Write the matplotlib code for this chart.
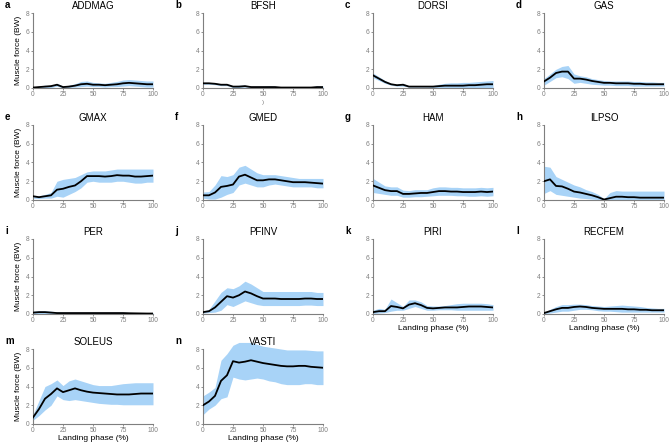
import matplotlib
matplotlib.use("Agg")
import matplotlib.pyplot as plt
import numpy as np

plt.rcParams['font.family'] = ['Liberation Sans', 'DejaVu Sans']

x = [0, 5, 10, 15, 20, 25, 30, 35, 40, 45, 50, 55, 60, 65, 70, 75, 80, 85, 90, 95, 100]

names = ["ADDMAG", "BFSH", "DORSI", "GAS", "GMAX", "GMED", "HAM", "ILPSO",
         "PER", "PFINV", "PIRI", "RECFEM", "SOLEUS", "VASTI"]
letters = list("abcdefghijklmn")

addmag_mean = [0.05,0.1,0.15,0.2,0.35,0.1,0.15,0.25,0.4,0.45,0.35,0.35,0.3,0.35,0.4,0.5,0.55,0.5,0.45,0.4,0.4]
addmag_up   = [0.1,0.2,0.3,0.25,0.5,0.2,0.3,0.45,0.7,0.75,0.6,0.55,0.5,0.6,0.7,0.85,0.9,0.85,0.8,0.75,0.75]
addmag_lo   = [0,0,0,0.05,0.2,0,0.05,0.1,0.15,0.2,0.15,0.15,0.1,0.15,0.15,0.2,0.25,0.2,0.15,0.1,0.1]

bfsh_mean = [0.5,0.5,0.45,0.35,0.35,0.15,0.15,0.2,0.1,0.1,0.1,0.1,0.1,0.05,0.05,0.05,0.05,0.05,0.05,0.1,0.1]
bfsh_up   = [0.6,0.6,0.55,0.45,0.45,0.25,0.3,0.3,0.2,0.2,0.2,0.25,0.2,0.1,0.1,0.1,0.1,0.1,0.1,0.25,0.2]
bfsh_lo   = [0.4,0.4,0.35,0.25,0.25,0.05,0.05,0.1,0.05,0.05,0.05,0.05,0.05,0,0,0,0,0,0,0.05,0.05]

dorsi_mean = [1.35,1.0,0.65,0.4,0.3,0.35,0.15,0.15,0.15,0.15,0.15,0.2,0.25,0.25,0.25,0.25,0.3,0.3,0.35,0.4,0.4]
dorsi_up   = [1.6,1.2,0.8,0.5,0.4,0.5,0.2,0.2,0.2,0.2,0.25,0.4,0.5,0.55,0.55,0.6,0.6,0.65,0.7,0.75,0.8]
dorsi_lo   = [1.1,0.8,0.5,0.3,0.2,0.2,0.1,0.1,0.1,0.1,0.05,0.05,0.05,0.05,0.05,0.05,0.05,0.05,0.05,0.05,0.05]

gas_mean = [0.7,1.1,1.6,1.75,1.75,1.0,1.0,0.9,0.75,0.65,0.55,0.55,0.5,0.5,0.5,0.45,0.45,0.4,0.4,0.4,0.4]
gas_up   = [1.0,1.5,2.0,2.3,2.4,1.5,1.3,1.2,1.0,0.9,0.8,0.75,0.75,0.75,0.75,0.7,0.7,0.65,0.65,0.6,0.6]
gas_lo   = [0.3,0.7,1.1,1.2,1.0,0.5,0.6,0.5,0.4,0.35,0.3,0.3,0.25,0.25,0.25,0.2,0.2,0.2,0.2,0.2,0.2]

gmax_mean = [0.4,0.3,0.4,0.5,1.1,1.2,1.4,1.55,2.0,2.55,2.55,2.55,2.5,2.55,2.65,2.6,2.6,2.5,2.5,2.55,2.6]
gmax_up   = [0.5,0.45,0.6,0.8,2.0,2.2,2.3,2.4,2.7,3.0,3.1,3.1,3.1,3.2,3.3,3.3,3.3,3.3,3.3,3.3,3.3]
gmax_lo   = [0.2,0.15,0.2,0.2,0.4,0.3,0.6,0.9,1.3,1.9,2.0,1.9,1.9,1.9,2.0,2.0,1.9,1.8,1.8,1.9,1.9]

gmed_mean = [0.5,0.5,0.8,1.4,1.5,1.65,2.5,2.7,2.4,2.1,2.1,2.2,2.2,2.1,2.0,1.9,1.9,1.9,1.85,1.8,1.75]
gmed_up   = [0.85,0.9,1.6,2.6,2.5,2.7,3.5,3.7,3.3,2.9,2.7,2.7,2.7,2.6,2.5,2.4,2.3,2.3,2.3,2.3,2.3]
gmed_lo   = [0.2,0.1,0.1,0.3,0.6,0.8,1.6,1.8,1.6,1.4,1.4,1.6,1.7,1.6,1.5,1.4,1.4,1.4,1.4,1.3,1.3]

ham_mean = [1.55,1.3,1.05,0.95,0.95,0.65,0.65,0.7,0.75,0.75,0.85,0.95,0.95,0.9,0.9,0.85,0.85,0.85,0.9,0.85,0.9]
ham_up   = [2.3,1.9,1.5,1.4,1.4,1.05,1.0,1.1,1.1,1.1,1.3,1.4,1.4,1.35,1.35,1.3,1.3,1.3,1.35,1.3,1.35]
ham_lo   = [0.8,0.7,0.6,0.5,0.5,0.3,0.3,0.35,0.35,0.4,0.45,0.5,0.5,0.5,0.45,0.45,0.4,0.4,0.45,0.4,0.45]

ilpso_mean = [2.0,2.2,1.5,1.45,1.2,0.9,0.8,0.65,0.5,0.3,0.05,0.2,0.35,0.35,0.3,0.3,0.25,0.25,0.25,0.25,0.25]
ilpso_up   = [3.6,3.5,2.5,2.2,1.9,1.6,1.4,1.1,0.9,0.6,0.15,0.8,1.0,0.95,0.95,0.95,0.95,0.95,0.95,0.95,0.95]
ilpso_lo   = [0.7,1.0,0.6,0.5,0.4,0.3,0.2,0.15,0.1,0.05,0,0,0,0,0,0,0,0,0,0,0]

per_mean = [0.15,0.2,0.2,0.15,0.1,0.1,0.1,0.1,0.1,0.1,0.1,0.1,0.1,0.1,0.1,0.1,0.08,0.07,0.06,0.05,0.05]
per_up   = [0.3,0.35,0.35,0.3,0.25,0.2,0.2,0.2,0.2,0.2,0.2,0.2,0.2,0.2,0.2,0.2,0.17,0.15,0.15,0.15,0.15]
per_lo   = [0.02,0.03,0.03,0.02,0.01,0.01,0.01,0.01,0.01,0.01,0.01,0.01,0.01,0.01,0.01,0.01,0,0,0,0,0]

pfinv_mean = [0.2,0.3,0.7,1.3,1.9,1.75,2.0,2.4,2.2,1.9,1.65,1.65,1.65,1.6,1.6,1.6,1.6,1.65,1.65,1.6,1.6]
pfinv_up   = [0.3,0.5,1.4,2.3,2.8,2.7,3.0,3.5,3.2,2.8,2.4,2.4,2.4,2.4,2.4,2.4,2.4,2.4,2.4,2.3,2.3]
pfinv_lo   = [0.1,0.15,0.2,0.4,1.0,0.8,1.1,1.4,1.2,1.0,0.9,0.9,0.9,0.9,0.9,0.9,0.9,0.95,0.95,0.9,0.9]

piri_mean = [0.2,0.3,0.3,0.85,0.75,0.6,1.0,1.15,0.95,0.65,0.6,0.65,0.7,0.7,0.7,0.75,0.8,0.8,0.8,0.75,0.7]
piri_up   = [0.4,0.6,0.5,1.6,1.2,0.8,1.5,1.5,1.3,0.9,0.85,0.85,0.9,1.0,1.1,1.15,1.15,1.15,1.15,1.1,1.0]
piri_lo   = [0.05,0.1,0.15,0.3,0.4,0.4,0.6,0.8,0.6,0.4,0.4,0.45,0.45,0.45,0.4,0.4,0.4,0.4,0.4,0.4,0.4]

recfem_mean = [0.1,0.3,0.5,0.65,0.65,0.75,0.8,0.75,0.65,0.6,0.55,0.55,0.55,0.55,0.5,0.5,0.45,0.45,0.4,0.4,0.4]
recfem_up   = [0.15,0.5,0.8,1.0,1.0,1.05,1.05,1.0,0.9,0.85,0.8,0.85,0.9,0.95,0.9,0.85,0.8,0.7,0.65,0.6,0.6]
recfem_lo   = [0.05,0.1,0.2,0.3,0.3,0.4,0.5,0.5,0.45,0.35,0.3,0.3,0.25,0.2,0.2,0.2,0.2,0.2,0.2,0.2,0.2]

soleus_mean = [0.7,1.6,2.7,3.2,3.8,3.4,3.6,3.8,3.6,3.45,3.35,3.3,3.25,3.2,3.15,3.15,3.15,3.2,3.25,3.25,3.25]
soleus_up   = [1.0,2.5,4.0,4.3,4.7,4.1,4.6,4.8,4.6,4.4,4.2,4.1,4.1,4.1,4.2,4.3,4.35,4.4,4.4,4.4,4.4]
soleus_lo   = [0.4,0.9,1.5,2.0,3.0,2.6,2.5,2.6,2.5,2.4,2.3,2.2,2.15,2.1,2.1,2.05,2.05,2.05,2.05,2.05,2.05]

vasti_mean = [2.0,2.4,3.0,4.6,5.2,6.7,6.55,6.65,6.8,6.65,6.5,6.4,6.3,6.2,6.15,6.15,6.2,6.2,6.1,6.05,6.0]
vasti_up   = [3.0,3.4,3.9,6.8,7.5,8.4,8.7,8.7,8.7,8.5,8.3,8.2,8.1,8.0,7.9,7.9,7.9,7.9,7.85,7.8,7.8]
vasti_lo   = [1.0,1.6,2.0,2.7,2.9,5.0,4.8,4.7,4.8,4.9,4.8,4.6,4.5,4.3,4.2,4.2,4.2,4.3,4.3,4.2,4.2]

means = [addmag_mean, bfsh_mean, dorsi_mean, gas_mean, gmax_mean, gmed_mean, ham_mean,
         ilpso_mean, per_mean, pfinv_mean, piri_mean, recfem_mean, soleus_mean, vasti_mean]
uppers = [addmag_up, bfsh_up, dorsi_up, gas_up, gmax_up, gmed_up, ham_up,
          ilpso_up, per_up, pfinv_up, piri_up, recfem_up, soleus_up, vasti_up]
lowers = [addmag_lo, bfsh_lo, dorsi_lo, gas_lo, gmax_lo, gmed_lo, ham_lo,
          ilpso_lo, per_lo, pfinv_lo, piri_lo, recfem_lo, soleus_lo, vasti_lo]

xticks = [0, 25, 50, 75, 100]
yticks = [0, 2, 4, 6, 8]

W, H = 669, 443
fig = plt.figure(figsize=(W/100, H/100), dpi=100)

col_left = [33, 203, 373, 544]
row_top = [13, 125, 239, 349]
aw, ah = 120, 75
band_color = '#a8d3f7'
grey = '#7f7f7f'

for i, name in enumerate(names):
    r, c = divmod(i, 4)
    l = col_left[c]; t = row_top[r]
    ax = fig.add_axes([l/W, (H - t - ah)/H, aw/W, ah/H])
    ax.fill_between(x, lowers[i], uppers[i], color=band_color, lw=0, clip_on=False, zorder=1)
    ax.plot(x, means[i], color='black', lw=1.3, zorder=3)
    ax.set_xlim(0, 100)
    ax.set_ylim(0, 8)
    ax.set_xticks(xticks)
    ax.set_yticks(yticks)
    for s in ['top', 'right']:
        ax.spines[s].set_visible(False)
    for s in ['left', 'bottom']:
        ax.spines[s].set_color(grey)
        ax.spines[s].set_linewidth(0.8)
    ax.tick_params(axis='both', labelsize=4.8, colors=grey, length=1.5, width=0.6, pad=1)
    ax.set_title(name, fontsize=7, pad=3)
    ax.text(-28/aw, 1 + 8/ah, letters[i], transform=ax.transAxes, fontsize=7,
            fontweight='bold', ha='left', va='center')
    if c == 0:
        ax.set_ylabel('Muscle force (BW)', fontsize=6, labelpad=2.5)
    if name in ("PIRI", "RECFEM", "SOLEUS", "VASTI"):
        ax.set_xlabel('Landing phase (%)', fontsize=6, labelpad=0.5)
    if name == "BFSH":
        ax.text(0.5, -0.19, ')', transform=ax.transAxes, fontsize=4.5, color=grey,
                ha='center', va='center')

fig.savefig('out.png', dpi=100)
